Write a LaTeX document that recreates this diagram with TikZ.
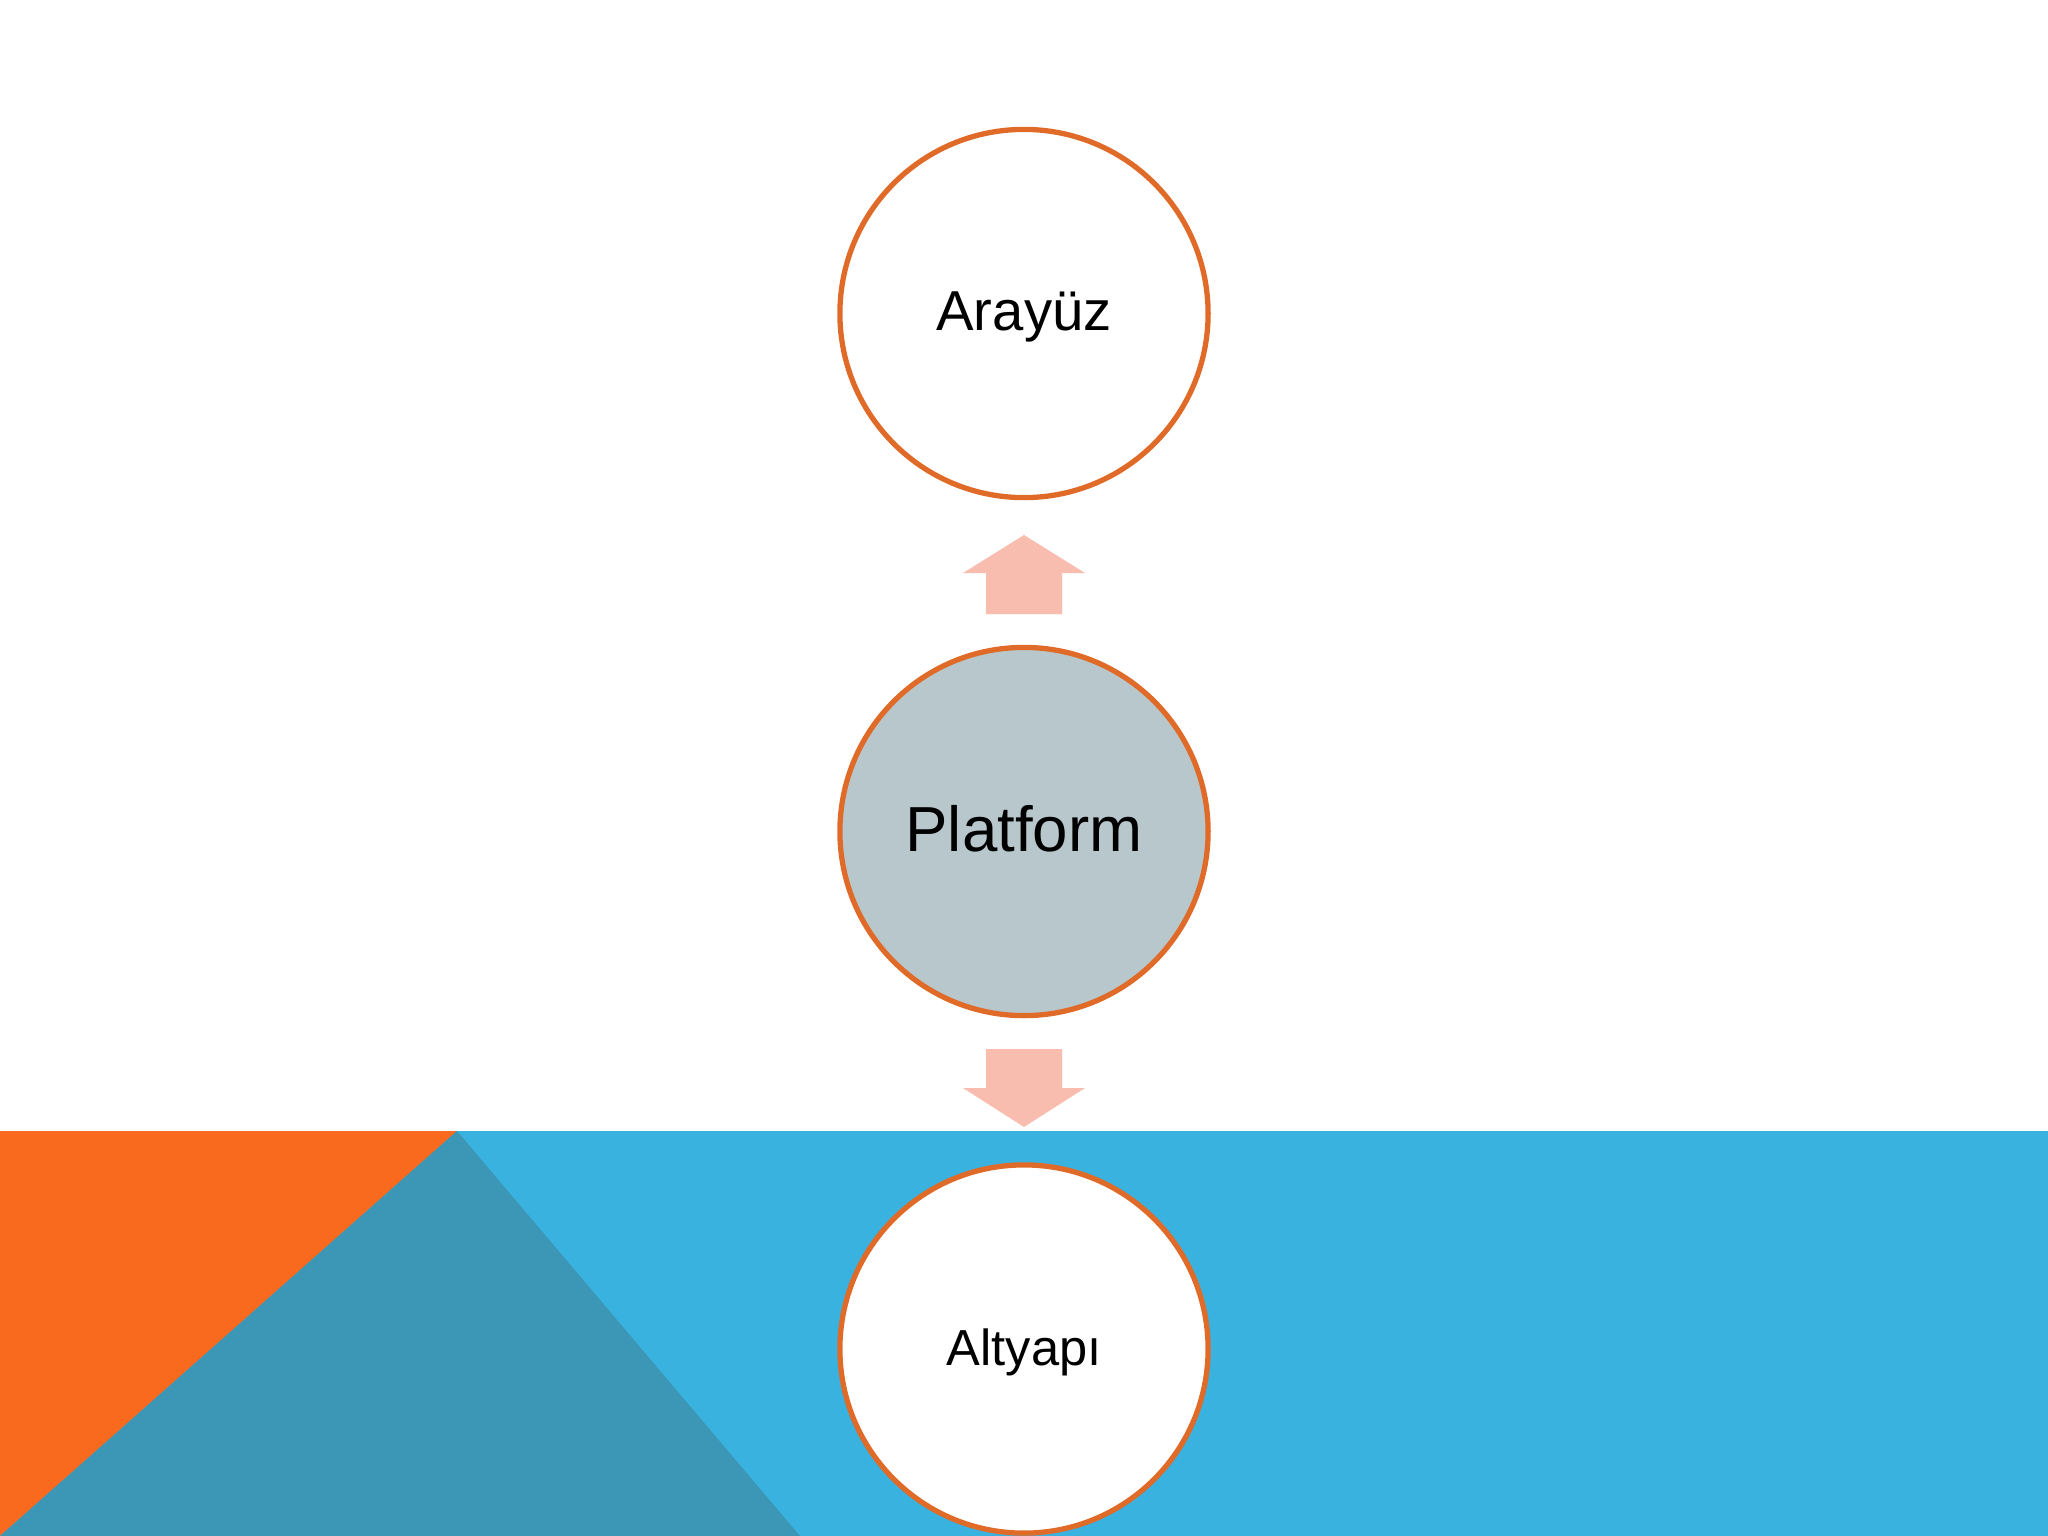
\documentclass[tikz,border=0pt]{standalone}
\usepackage{fontspec}
\setmainfont{Liberation Sans}
\definecolor{bandblue}{HTML}{3AB2E0}
\definecolor{tealdark}{HTML}{3C96B6}
\definecolor{orangebg}{HTML}{F96A1E}
\definecolor{ringorange}{HTML}{E06A28}
\definecolor{platfill}{HTML}{B8C7CC}
\definecolor{arrowpink}{HTML}{F9BDB0}
\tikzset{
  ring/.style={circle, draw=ringorange, line width=1.5pt, minimum size=3.68cm, inner sep=0pt},
  lbl/.style={anchor=base, inner sep=0pt, text=black},
  blockarrow/.style={fill=arrowpink}
}
\begin{document}
\begin{tikzpicture}[x=0.01cm,y=-0.01cm]
\useasboundingbox (0,0) rectangle (2048,1536);
\fill[white] (0,0) rectangle (2048,1536);
% bottom band
\fill[bandblue] (0,1131) rectangle (2048,1536);
\fill[orangebg] (0,1131) -- (457,1131) -- (0,1536) -- cycle;
\fill[tealdark] (457,1131) -- (800,1536) -- (0,1536) -- cycle;
% circles
\node[ring, fill=white] (top) at (1024,313.5) {};
\node[ring, fill=platfill] (mid) at (1024,831.5) {};
\node[ring, fill=white] (bot) at (1024,1349) {};
% labels
\node[lbl, font=\fontsize{16}{19}\selectfont] (ltop) at (1024,330) {Arayüz};
\node[lbl, font=\fontsize{18.1}{22}\selectfont] (lmid) at (1024,851) {Platform};
\node[lbl, font=\fontsize{14.4}{17}\selectfont] (lbot) at (1024,1365) {Altyapı};
% block arrows
\fill[blockarrow] (1024,535) -- (1085,573) -- (1062,573) -- (1062,614) -- (986,614) -- (986,573) -- (963,573) -- cycle;
\fill[blockarrow] (986,1049) -- (1062,1049) -- (1062,1088) -- (1085,1088) -- (1024,1127) -- (963,1088) -- (986,1088) -- cycle;
\end{tikzpicture}
\end{document}
